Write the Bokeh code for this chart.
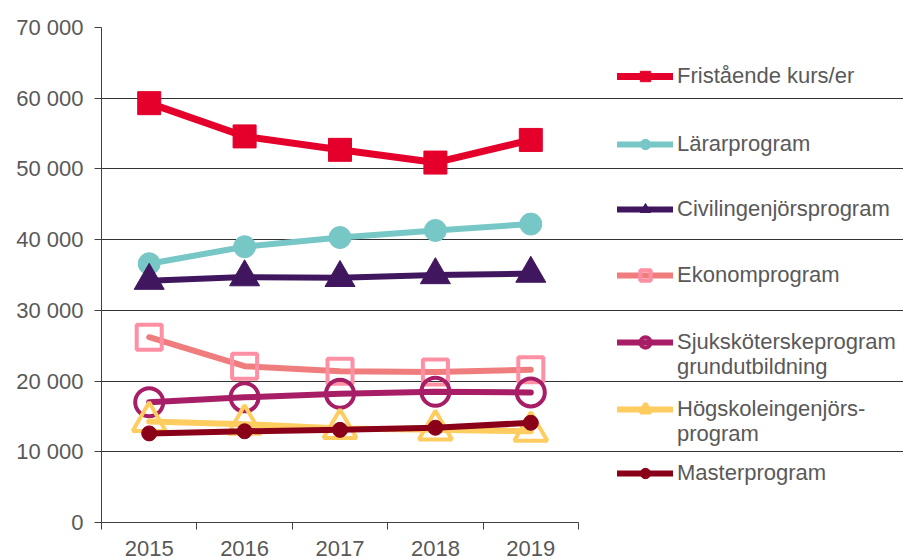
from bokeh.plotting import figure
from bokeh.models import Range1d, FixedTicker, Legend, LegendItem
from bokeh.embed import file_html
from bokeh.resources import INLINE

years = [2015, 2016, 2017, 2018, 2019]
fristaende = [59300, 54600, 52700, 50900, 54100]
lararprogram = [36600, 39000, 40300, 41300, 42200]
civilingenjor = [34200, 34700, 34600, 35000, 35200]
ekonom = [26200, 22100, 21400, 21300, 21600]
sjukskoterske = [17000, 17700, 18200, 18500, 18400]
hogskoleingenjor = [14300, 13900, 13300, 13100, 12900]
master = [12600, 12900, 13100, 13400, 14100]

y_ticks = [0, 10000, 20000, 30000, 40000, 50000, 60000, 70000]
y_tick_labels = ["0", "10 000", "20 000", "30 000", "40 000", "50 000", "60 000", "70 000"]
x_bounds = [2014.5, 2015.5, 2016.5, 2017.5, 2018.5, 2019.5]

TEXT = "#595959"
FONT = "Liberation Sans"

W, H = 903, 559
frame_left, frame_top, frame_bottom = 101, 27, 522
plot_right = 578  # right edge of the year axis
x_start, x_end = x_bounds[0], x_bounds[-1]
px_per_year = (plot_right - frame_left) / (x_end - x_start)
x_range_end = x_start + (W - frame_left) / px_per_year

p = figure(width=W, height=H, output_backend="svg", toolbar_location=None,
           x_range=Range1d(x_start, x_range_end), y_range=Range1d(0, 70000),
           min_border_left=frame_left, min_border_right=0, min_border_top=frame_top,
           min_border_bottom=H - frame_bottom)
p.outline_line_color = None
p.background_fill_color = "white"
p.xgrid.grid_line_color = None
p.ygrid.grid_line_color = "#333333"
p.ygrid.grid_line_width = 1
p.ygrid.ticker = FixedTicker(ticks=y_ticks)
p.ygrid.bounds = (x_start, x_end)

p.yaxis.ticker = FixedTicker(ticks=y_ticks, minor_ticks=[])
p.yaxis.major_label_overrides = {t: l for t, l in zip(y_ticks, y_tick_labels)}
p.yaxis.major_tick_out = 7
p.yaxis.major_tick_in = 0
p.yaxis.minor_tick_out = 0
p.yaxis.major_tick_line_color = "#404040"
p.yaxis.axis_line_color = "#404040"
p.yaxis.major_label_standoff = 11
p.yaxis.major_label_text_font_size = "22px"
p.yaxis.major_label_text_color = TEXT
p.yaxis.major_label_text_font = FONT

p.xaxis.bounds = (x_start, x_end)
p.xaxis.ticker = FixedTicker(ticks=years, minor_ticks=x_bounds)
p.xaxis.major_label_overrides = {y: str(y) for y in years}
p.xaxis.major_tick_out = 0
p.xaxis.major_tick_in = 0
p.xaxis.minor_tick_out = 7
p.xaxis.minor_tick_in = 0
p.xaxis.minor_tick_line_color = "#404040"
p.xaxis.axis_line_color = "#404040"
p.xaxis.major_label_standoff = 11
p.xaxis.major_label_text_font_size = "22px"
p.xaxis.major_label_text_color = TEXT
p.xaxis.major_label_text_font = FONT

series = [
    (["Fristående kurs/er"], fristaende, "#E4002B", 7, "square", 23, "#E4002B", "#E4002B", 1),
    (["Lärarprogram"], lararprogram, "#78C7C7", 6, "circle", 22, "#78C7C7", "#78C7C7", 1),
    (["Civilingenjörsprogram"], civilingenjor, "#40175F", 6, "triangle", 30, "#40175F", "#40175F", 1),
    (["Ekonomprogram"], ekonom, "#EF7D7D", 6, "square", 25, None, "#FF8FA3", 4),
    (["Sjuksköterskeprogram", "grundutbildning"], sjukskoterske, "#A71E66", 6, "circle", 28, None, "#A71E66", 4),
    (["Högskoleingenjörs-", "program"], hogskoleingenjor, "#FFCC60", 6, "triangle", 33, None, "#FFCC60", 4),
    (["Masterprogram"], master, "#8A0018", 6, "circle", 15, "#8A0018", "#8A0018", 1),
]

legend_centers = [76, 144, 209, 275, 342, 409, 473]
line_step = 25
h = 26

# invisible renderer used for continuation lines of wrapped legend labels
blank = p.line(x=[], y=[], line_alpha=0)


def add_legend(label, renderers, cy):
    leg = Legend(items=[LegendItem(label=label, renderers=renderers)],
                 location=(617 - frame_left, frame_bottom - (cy + h / 2)),
                 glyph_width=56, glyph_height=h, label_height=h, label_standoff=4,
                 padding=0, margin=0, spacing=0,
                 background_fill_alpha=0, border_line_alpha=0,
                 label_text_font_size="22px", label_text_color=TEXT,
                 label_text_font=FONT)
    p.add_layout(leg, "center")


for (lines, vals, lc, lw, mk, ms, fill, mlc, mlw), cy in zip(series, legend_centers):
    r1 = p.line(years, vals, line_color=lc, line_width=lw, line_join="round", line_cap="round")
    r2 = p.scatter(years, vals, marker=mk, size=ms,
                   fill_color=fill if fill else None, fill_alpha=1 if fill else 0,
                   line_color=mlc, line_width=mlw)
    add_legend(lines[0], [r1, r2], cy)
    for i, extra in enumerate(lines[1:], start=1):
        add_legend(extra, [blank], cy + i * line_step)

open("out.html", "w").write(file_html(p, INLINE))
